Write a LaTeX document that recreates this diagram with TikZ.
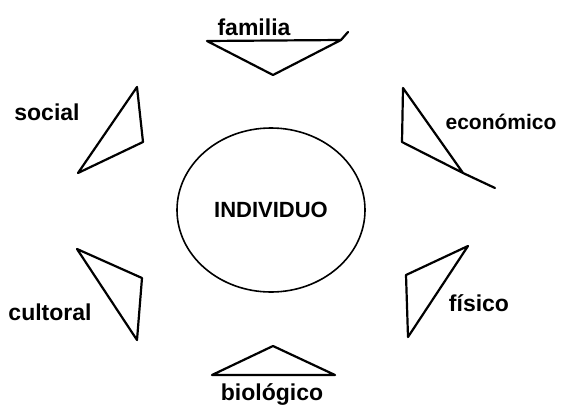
\documentclass[tikz,border=0pt]{standalone}
\usepackage{fontspec}
\setmainfont{Liberation Sans}
\usetikzlibrary{shapes.geometric}
\begin{document}
\begin{tikzpicture}[x=1pt,y=-1pt,
  tri/.style={line width=2.2pt, line join=round, line cap=round},
  lbl/.style={font=\bfseries\fontsize{23}{26}\selectfont, inner sep=0pt},
  core/.style={draw, ellipse, line width=1.6pt, minimum width=188pt, minimum height=164pt, inner sep=0pt, font=\bfseries\fontsize{22}{24}\selectfont}]
\useasboundingbox (0,0) rectangle (561,412);
\fill[white] (0,0) rectangle (561,412);
% central node
\node[core] (ind) at (271,210) {INDIVIDUO};
% triangle corners
\coordinate (f1) at (207,41); \coordinate (f2) at (341,40); \coordinate (f3) at (273,75); \coordinate (f4) at (348,32);
\coordinate (s1) at (137,87); \coordinate (s2) at (143,142); \coordinate (s3) at (78,173);
\coordinate (e1) at (403,88); \coordinate (e2) at (402,142); \coordinate (e3) at (463,173); \coordinate (e4) at (495,188);
\coordinate (c1) at (77,249); \coordinate (c2) at (142,278); \coordinate (c3) at (137,340);
\coordinate (p1) at (468,246); \coordinate (p2) at (406,275); \coordinate (p3) at (408,337);
\coordinate (b1) at (273,346); \coordinate (b2) at (212,375); \coordinate (b3) at (335,375);
% triangles
\draw[tri] (f1) -- (f2) -- (f3) -- cycle;
\draw[tri] (f2) -- (f4);
\draw[tri] (s1) -- (s2) -- (s3) -- cycle;
\draw[tri] (e1) -- (e2) -- (e3) -- cycle;
\draw[tri] (e3) -- (e4);
\draw[tri] (c1) -- (c2) -- (c3) -- cycle;
\draw[tri] (p1) -- (p2) -- (p3) -- cycle;
\draw[tri] (b1) -- (b2) -- (b3) -- cycle;
% labels
\node[lbl] (lfam) at (254,27) {familia};
\node[lbl] (lsoc) at (47,112) {social};
\node[lbl, font=\bfseries\fontsize{21}{24}\selectfont] (leco) at (501,122) {económico};
\node[lbl] (lcul) at (50,312) {cultoral};
\node[lbl] (lfis) at (479,303) {físico};
\node[lbl] (lbio) at (272,394) {biológico};
\end{tikzpicture}
\end{document}
